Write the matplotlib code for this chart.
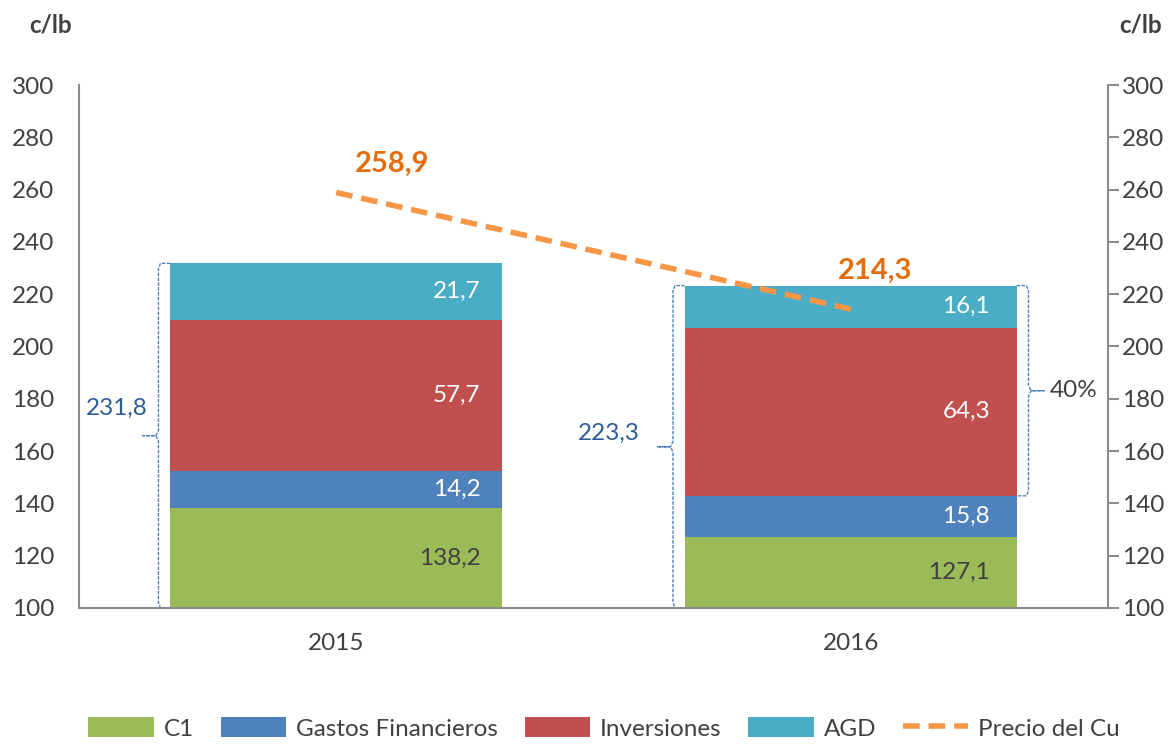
import matplotlib.pyplot as plt
import numpy as np

plt.rcParams['font.family'] = ['Lato', 'DejaVu Sans']

# datos
years = ['2015', '2016']
c1 = [138.2, 127.1]
gastos = [14.2, 15.8]
inversiones = [57.7, 64.3]
agd = [21.7, 16.1]
precio = [258.9, 214.3]
totales = ['231,8', '223,3']
base = 100

col_c1 = '#9BBB59'
col_gas = '#4F81BD'
col_inv = '#C0504D'
col_agd = '#4BACC6'
col_pre = '#F79646'
gris = '#8C8C8C'
txt = '#404040'
azul = '#2F5C94'
fs = 17.5

fig = plt.figure(figsize=(11.73, 7.45), dpi=100)
ax = fig.add_axes([0.0673, 0.1839, 0.8773, 0.7020])
x = np.arange(len(years))
w = 0.645

seg_c1 = np.array(c1) - base
b1 = ax.bar(x, seg_c1, w, bottom=base, color=col_c1, label='C1')
bot = np.array(c1)
b2 = ax.bar(x, gastos, w, bottom=bot, color=col_gas, label='Gastos Financieros')
bot2 = bot + np.array(gastos)
b3 = ax.bar(x, inversiones, w, bottom=bot2, color=col_inv, label='Inversiones')
bot3 = bot2 + np.array(inversiones)
b4 = ax.bar(x, agd, w, bottom=bot3, color=col_agd, label='AGD')
top = bot3 + np.array(agd)

ln, = ax.plot(x, precio, color=col_pre, lw=4, dashes=(3, 1.6), label='Precio del Cu')

def fmt(v):
    return f'{v:.1f}'.replace('.', ',')

# etiquetas de segmentos
for i in range(len(years)):
    xr = x[i] + w / 2 - 0.042 - 0.01 * i
    ax.text(xr, (base + c1[i]) / 2, fmt(c1[i]), ha='right', va='center', fontsize=fs, color=txt)
    ax.text(xr, bot[i] + gastos[i] / 2, fmt(gastos[i]), ha='right', va='center', fontsize=fs, color='white')
    ax.text(xr, bot2[i] + inversiones[i] / 2, fmt(inversiones[i]), ha='right', va='center', fontsize=fs, color='white')
    ax.text(xr, bot3[i] + agd[i] / 2, fmt(agd[i]), ha='right', va='center', fontsize=fs, color='white')

# etiquetas del precio
ax.text(0.108, 270, fmt(precio[0]), ha='center', va='center', fontsize=21, fontweight='bold', color='#E46C0A')
ax.text(1.048, 229, fmt(precio[1]), ha='center', va='center', fontsize=21, fontweight='bold', color='#E46C0A')

# llaves
def llave(xe, y0, y1, lado, color='#4F81BD'):
    # xe: borde de la barra; lado=-1 izquierda, +1 derecha
    d1 = 0.023 * lado
    d2 = 0.053 * lado
    r = 2.0
    ym = (y0 + y1) / 2
    xv = xe + d1
    xs = [xe, xv - 0.004 * lado, xv, xv, xv + 0.005 * lado, xe + d2,
          xv + 0.005 * lado, xv, xv, xv - 0.004 * lado, xe]
    ys = [y1, y1, y1 - r, ym + r, ym, ym,
          ym, ym - r, y0 + r, y0, y0]
    ax.plot(xs, ys, color=color, lw=1, ls=(0, (2.5, 1)), clip_on=False)

dx_tot = [0.044, 0.0875]
dy_tot = [10.6, 5.3]
for i in range(len(years)):
    llave(x[i] - w / 2, base, top[i], -1)
    ax.text(x[i] - w / 2 - dx_tot[i], (base + top[i]) / 2 + dy_tot[i], totales[i], ha='right', va='center',
            fontsize=fs, color=azul)

llave(x[1] + w / 2, bot[1] + gastos[1], top[1], 1)
ax.text(x[1] + w / 2 + 0.065, (bot2[1] + top[1]) / 2, '40%', ha='left', va='center', fontsize=fs, color=txt)

# ejes
ax.set_xlim(-0.5, 1.5)
ax.set_ylim(100, 300)
ax.set_yticks(range(100, 301, 20))
ax.set_xticks(x)
ax.set_xticklabels(years)
ax.tick_params(axis='x', length=0, labelsize=fs, colors=txt, pad=18)
ax.tick_params(axis='y', length=0, labelsize=fs, colors=txt, pad=18)
for s in ['top', 'right']:
    ax.spines[s].set_visible(False)
ax.spines['left'].set_color(gris)
ax.spines['bottom'].set_color(gris)
ax.spines['left'].set_linewidth(1.5)
ax.spines['bottom'].set_linewidth(1.5)

ax2 = ax.twinx()
ax2.set_ylim(100, 300)
ax2.set_yticks(range(100, 301, 20))
ax2.tick_params(axis='y', length=8, width=1.5, color=gris, labelsize=fs, labelcolor=txt, pad=2)
for s in ['top', 'left', 'bottom']:
    ax2.spines[s].set_visible(False)
ax2.spines['right'].set_color(gris)
ax2.spines['right'].set_linewidth(1.5)

fig.text(0.043, 0.967, 'c/lb', ha='center', va='center', fontsize=fs, fontweight='bold', color=txt)
fig.text(0.972, 0.967, 'c/lb', ha='center', va='center', fontsize=fs, fontweight='bold', color=txt)

fig.legend(handles=[b1, b2, b3, b4, ln], loc='lower center', bbox_to_anchor=(0.515, -0.022), ncol=5,
           frameon=False, fontsize=fs, handlelength=2.7, handleheight=0.9, columnspacing=1.1,
           handletextpad=0.4, labelcolor=txt)

fig.savefig('out.png', dpi=100)
